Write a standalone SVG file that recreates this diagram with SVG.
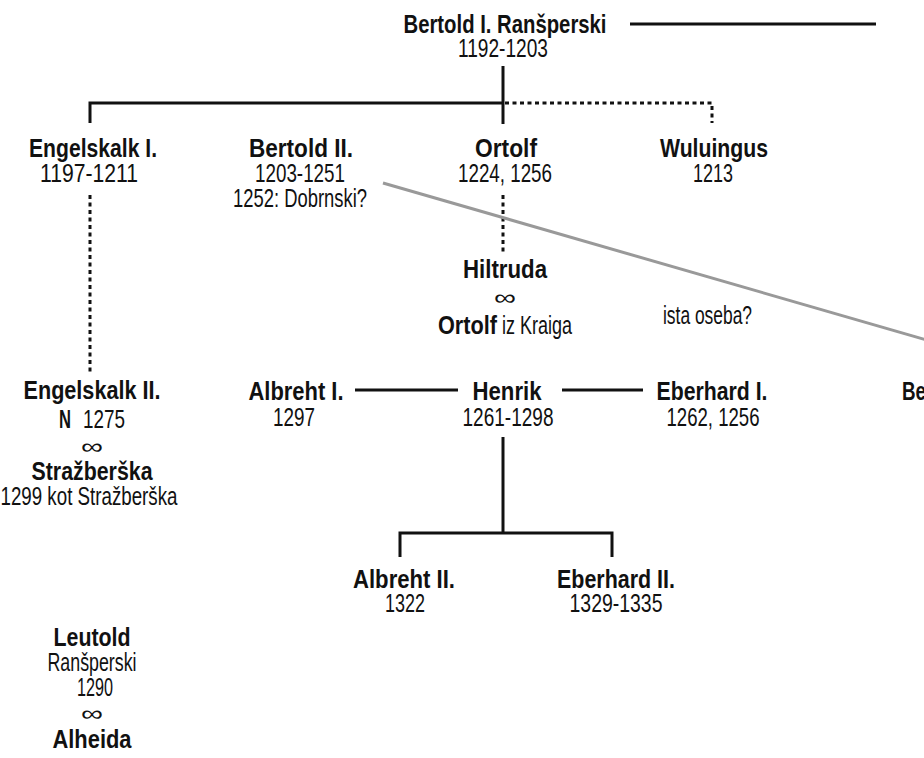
<svg xmlns="http://www.w3.org/2000/svg" width="924" height="758" viewBox="0 0 924 758">
<style>
text{font-family:"Liberation Sans",Arial,sans-serif;font-size:25px;fill:#111;text-anchor:middle}
.b{font-weight:bold}
.r{font-weight:normal}
.inf{font-size:22px}
.s{text-anchor:start}
.ln{stroke:#111;stroke-width:3;fill:none}
.dt{stroke:#111;stroke-width:3;fill:none;stroke-dasharray:4 3.5}
.gr{stroke:#999;stroke-width:3;fill:none}
</style>
<rect width="924" height="758" fill="#fff"/>
<g id="connectors">
<line class="ln" x1="630" y1="24" x2="876" y2="24"/>
<line class="ln" x1="503" y1="66" x2="503" y2="124"/>
<polyline class="ln" points="90,123 90,103 503,103"/>
<polyline class="dt" points="505,103 712,103 712,123"/>
<line class="dt" x1="90" y1="195" x2="90" y2="373"/>
<line class="dt" x1="503" y1="195" x2="503" y2="253"/>
<line class="gr" x1="383" y1="183" x2="930" y2="341"/>
<line class="ln" x1="355" y1="390" x2="458" y2="390"/>
<line class="ln" x1="562" y1="390" x2="643" y2="390"/>
<line class="ln" x1="503" y1="437" x2="503" y2="533"/>
<polyline class="ln" points="400,557 400,533 612,533 612,557"/>
</g>
<g id="bertold1">
<text class="b" x="505" y="33" textLength="203" lengthAdjust="spacingAndGlyphs">Bertold I. Ranšperski</text>
<text class="r" x="503" y="57" textLength="90" lengthAdjust="spacingAndGlyphs">1192-1203</text>
</g>
<g id="engelskalk1">
<text class="b" x="93" y="157" textLength="128" lengthAdjust="spacingAndGlyphs">Engelskalk I.</text>
<text class="r" x="89" y="182" textLength="98" lengthAdjust="spacingAndGlyphs">1197-1211</text>
</g>
<g id="bertold2">
<text class="b" x="301" y="157" textLength="104" lengthAdjust="spacingAndGlyphs">Bertold II.</text>
<text class="r" x="300" y="182" textLength="90" lengthAdjust="spacingAndGlyphs">1203-1251</text>
<text class="r" x="300" y="207" textLength="134" lengthAdjust="spacingAndGlyphs">1252: Dobrnski?</text>
</g>
<g id="ortolf">
<text class="b" x="506" y="157" textLength="62" lengthAdjust="spacingAndGlyphs">Ortolf</text>
<text class="r" x="505" y="182" textLength="94" lengthAdjust="spacingAndGlyphs">1224, 1256</text>
</g>
<g id="wuluingus">
<text class="b" x="714" y="157" textLength="108" lengthAdjust="spacingAndGlyphs">Wuluingus</text>
<text class="r" x="713" y="182" textLength="40" lengthAdjust="spacingAndGlyphs">1213</text>
</g>
<g id="hiltruda">
<text class="b" x="505" y="278" textLength="84" lengthAdjust="spacingAndGlyphs">Hiltruda</text>
<text class="r inf" x="505" y="305" textLength="22" lengthAdjust="spacingAndGlyphs">∞</text>
<text class="b s" x="438" y="334" textLength="59" lengthAdjust="spacingAndGlyphs">Ortolf</text>
<text class="r s" x="502" y="334" textLength="70" lengthAdjust="spacingAndGlyphs">iz Kraiga</text>
</g>
<g id="note">
<text class="r s" x="663" y="324" textLength="89" lengthAdjust="spacingAndGlyphs">ista oseba?</text>
</g>
<g id="engelskalk2">
<text class="b" x="92" y="399" textLength="137" lengthAdjust="spacingAndGlyphs">Engelskalk II.</text>
<text class="b s" x="59" y="428" textLength="12" lengthAdjust="spacingAndGlyphs">N</text>
<text class="r s" x="83" y="428" textLength="42" lengthAdjust="spacingAndGlyphs">1275</text>
<text class="r inf" x="92" y="454" textLength="22" lengthAdjust="spacingAndGlyphs">∞</text>
<text class="b" x="92" y="480" textLength="121" lengthAdjust="spacingAndGlyphs">Stražberška</text>
<text class="r" x="89" y="505" textLength="177" lengthAdjust="spacingAndGlyphs">1299 kot Stražberška</text>
</g>
<g id="albreht1">
<text class="b" x="296" y="400" textLength="95" lengthAdjust="spacingAndGlyphs">Albreht I.</text>
<text class="r" x="294" y="426" textLength="42" lengthAdjust="spacingAndGlyphs">1297</text>
</g>
<g id="henrik">
<text class="b" x="507" y="400" textLength="69" lengthAdjust="spacingAndGlyphs">Henrik</text>
<text class="r" x="508" y="426" textLength="91" lengthAdjust="spacingAndGlyphs">1261-1298</text>
</g>
<g id="eberhard1">
<text class="b" x="712" y="400" textLength="111" lengthAdjust="spacingAndGlyphs">Eberhard I.</text>
<text class="r" x="713" y="426" textLength="93" lengthAdjust="spacingAndGlyphs">1262, 1256</text>
</g>
<g id="be">
<text class="b s" x="902" y="400" textLength="24" lengthAdjust="spacingAndGlyphs">Be</text>
</g>
<g id="albreht2">
<text class="b" x="404" y="588" textLength="102" lengthAdjust="spacingAndGlyphs">Albreht II.</text>
<text class="r" x="405" y="612" textLength="40" lengthAdjust="spacingAndGlyphs">1322</text>
</g>
<g id="eberhard2">
<text class="b" x="616" y="588" textLength="118" lengthAdjust="spacingAndGlyphs">Eberhard II.</text>
<text class="r" x="616" y="612" textLength="93" lengthAdjust="spacingAndGlyphs">1329-1335</text>
</g>
<g id="leutold">
<text class="b" x="92" y="646" textLength="77" lengthAdjust="spacingAndGlyphs">Leutold</text>
<text class="r" x="92" y="671" textLength="89" lengthAdjust="spacingAndGlyphs">Ranšperski</text>
<text class="r" x="95" y="696" textLength="36" lengthAdjust="spacingAndGlyphs">1290</text>
<text class="r inf" x="92" y="721" textLength="22" lengthAdjust="spacingAndGlyphs">∞</text>
<text class="b" x="92" y="748" textLength="79" lengthAdjust="spacingAndGlyphs">Alheida</text>
</g>
</svg>
